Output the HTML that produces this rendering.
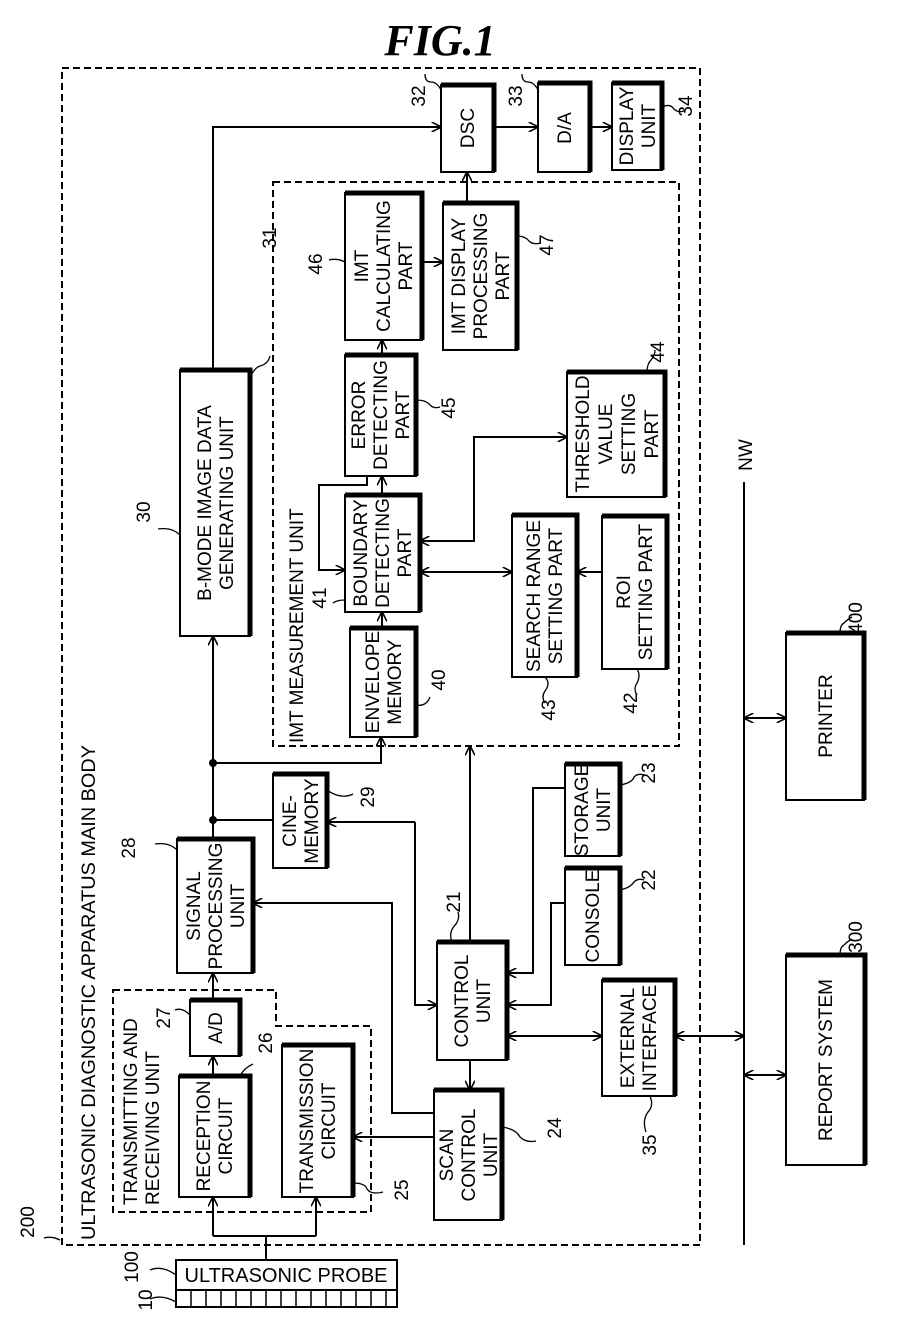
<!DOCTYPE html>
<html><head><meta charset="utf-8"><style>
html,body{margin:0;padding:0;background:#fff}
svg{display:block}
text{font-family:"Liberation Sans",sans-serif;font-size:19px;fill:#000}
.n text{font-size:19px}
</style></head><body>
<svg width="921" height="1335" viewBox="0 0 921 1335" xmlns="http://www.w3.org/2000/svg">
<defs>
<marker id="a" viewBox="0 0 10 10" refX="9.5" refY="5" markerWidth="10" markerHeight="10" markerUnits="userSpaceOnUse" orient="auto-start-reverse">
<path d="M0,0 L10,5 L0,10" fill="none" stroke="#000" stroke-width="1.6"/></marker>
</defs>
<text x="440" y="55" text-anchor="middle" style="font-family:'Liberation Serif',serif;font-weight:bold;font-style:italic;font-size:44px">FIG.1</text>

<g fill="none" stroke="#000" stroke-width="2" stroke-dasharray="7,4">
<rect x="62" y="68" width="638" height="1177"/>
<rect x="273" y="182" width="406" height="564"/>
<path d="M113,990 H276 V1026 H371 V1212 H113 Z"/>
</g>

<g fill="#fff" stroke="#000" stroke-width="2">
<rect x="441" y="85" width="53" height="87"/>
<rect x="538" y="83" width="52" height="89"/>
<rect x="612" y="83" width="50" height="87"/>
<rect x="345" y="193" width="77" height="147"/>
<rect x="443" y="203" width="74" height="147"/>
<rect x="345" y="355" width="71" height="121"/>
<rect x="567" y="372" width="98" height="125"/>
<rect x="345" y="495" width="75" height="117"/>
<rect x="512" y="515" width="65" height="162"/>
<rect x="602" y="516" width="65" height="153"/>
<rect x="350" y="628" width="66" height="109"/>
<rect x="180" y="370" width="70" height="266"/>
<rect x="177" y="839" width="76" height="134"/>
<rect x="273" y="774" width="54" height="94"/>
<rect x="565" y="764" width="55" height="92"/>
<rect x="565" y="868" width="55" height="97"/>
<rect x="437" y="942" width="70" height="118"/>
<rect x="602" y="980" width="73" height="116"/>
<rect x="434" y="1090" width="68" height="130"/>
<rect x="190" y="1000" width="50" height="56"/>
<rect x="179" y="1076" width="71" height="121"/>
<rect x="282" y="1045" width="71" height="152"/>
<rect x="786" y="633" width="78" height="167"/>
<rect x="786" y="955" width="79" height="210"/>
<rect x="176" y="1260" width="221" height="30"/>
<rect x="176" y="1290" width="221" height="17"/>
</g>
<g fill="none" stroke="#000" stroke-width="5">
<polyline points="441,85 494,85 494,172"/>
<polyline points="538,83 590,83 590,172"/>
<polyline points="612,83 662,83 662,170"/>
<polyline points="345,193 422,193 422,340"/>
<polyline points="443,203 517,203 517,350"/>
<polyline points="345,355 416,355 416,476"/>
<polyline points="567,372 665,372 665,497"/>
<polyline points="345,495 420,495 420,612"/>
<polyline points="512,515 577,515 577,677"/>
<polyline points="602,516 667,516 667,669"/>
<polyline points="350,628 416,628 416,737"/>
<polyline points="180,370 250,370 250,636"/>
<polyline points="177,839 253,839 253,973"/>
<polyline points="273,774 327,774 327,868"/>
<polyline points="565,764 620,764 620,856"/>
<polyline points="565,868 620,868 620,965"/>
<polyline points="437,942 507,942 507,1060"/>
<polyline points="602,980 675,980 675,1096"/>
<polyline points="434,1090 502,1090 502,1220"/>
<polyline points="190,1000 240,1000 240,1056"/>
<polyline points="179,1076 250,1076 250,1197"/>
<polyline points="282,1045 353,1045 353,1197"/>
<polyline points="786,633 864,633 864,800"/>
<polyline points="786,955 865,955 865,1165"/>
</g>
<g stroke="#000" stroke-width="1.5">
<line x1="191" y1="1290" x2="191" y2="1307"/><line x1="206" y1="1290" x2="206" y2="1307"/><line x1="221" y1="1290" x2="221" y2="1307"/><line x1="236" y1="1290" x2="236" y2="1307"/><line x1="251" y1="1290" x2="251" y2="1307"/><line x1="266" y1="1290" x2="266" y2="1307"/><line x1="281" y1="1290" x2="281" y2="1307"/><line x1="296" y1="1290" x2="296" y2="1307"/><line x1="311" y1="1290" x2="311" y2="1307"/><line x1="326" y1="1290" x2="326" y2="1307"/><line x1="341" y1="1290" x2="341" y2="1307"/><line x1="356" y1="1290" x2="356" y2="1307"/><line x1="371" y1="1290" x2="371" y2="1307"/><line x1="386" y1="1290" x2="386" y2="1307"/>
</g>

<g fill="none" stroke="#000" stroke-width="2">
<path d="M266,1260 V1236 M213,1236 H316" />
<path d="M213,1236 V1197" marker-end="url(#a)"/>
<path d="M316,1197 V1236" marker-start="url(#a)"/>
<path d="M213,1076 V1056" marker-end="url(#a)"/>
<path d="M213,1000 V973" marker-end="url(#a)"/>
<path d="M213,839 V636" marker-end="url(#a)"/>
<path d="M213,820 H273"/>
<path d="M213,763 H381 V737" marker-end="url(#a)"/>
<path d="M213,370 V127 H441" marker-end="url(#a)"/>
<path d="M494,127 H538" marker-end="url(#a)"/>
<path d="M590,127 H612" marker-end="url(#a)"/>
<path d="M467,203 V172" marker-end="url(#a)"/>
<path d="M422,262 H443" marker-end="url(#a)"/>
<path d="M382,355 V340" marker-end="url(#a)"/>
<path d="M382,495 V476" marker-end="url(#a)"/>
<path d="M367,476 V485 H319 V570 H345" marker-end="url(#a)"/>
<path d="M420,541 H474 V437 H567" marker-start="url(#a)" marker-end="url(#a)"/>
<path d="M420,572 H512" marker-start="url(#a)" marker-end="url(#a)"/>
<path d="M602,572 H577" marker-end="url(#a)"/>
<path d="M382,628 V612" marker-end="url(#a)"/>
<path d="M470,942 V746" marker-end="url(#a)"/>
<path d="M470,1060 V1090" marker-end="url(#a)"/>
<path d="M415,822 H327" marker-end="url(#a)"/>
<path d="M415,822 V1005 H437" marker-end="url(#a)"/>
<path d="M434,1113 H392 V903 H253" marker-end="url(#a)"/>
<path d="M434,1137 H353" marker-end="url(#a)"/>
<path d="M565,788 H533 V973 H507" marker-end="url(#a)"/>
<path d="M565,903 H551 V1005 H507" marker-end="url(#a)"/>
<path d="M507,1036 H602" marker-start="url(#a)" marker-end="url(#a)"/>
<path d="M675,1036 H744" marker-start="url(#a)" marker-end="url(#a)"/>
<path d="M744,718 H786" marker-start="url(#a)" marker-end="url(#a)"/>
<path d="M744,1075 H786" marker-start="url(#a)" marker-end="url(#a)"/>
<path d="M744,482 V1245"/>
<path d="M60,1240 q-8,-4 -16,-2" stroke-width="1.3"/>
<path d="M176,1275 q-14,-10 -26,-5" stroke-width="1.3"/>
<path d="M176,1302 q-14,-8 -26,-3" stroke-width="1.3"/>
<path d="M190,1015 q-8,-8 -15,-5" stroke-width="1.3"/>
<path d="M240,1076 q4,-8 13,-12" stroke-width="1.3"/>
<path d="M353,1183 q12,0 14,6 q4,6 16,3" stroke-width="1.3"/>
<path d="M177,850 q-8,-8 -22,-6" stroke-width="1.3"/>
<path d="M327,790 q14,10 26,4" stroke-width="1.3"/>
<path d="M452,942 q-4,-10 4,-18 q4,-6 2,-12" stroke-width="1.3"/>
<path d="M620,890 q10,-2 14,-8 q4,-4 10,-2" stroke-width="1.3"/>
<path d="M620,785 q12,-2 14,-8 q4,-4 10,-2" stroke-width="1.3"/>
<path d="M502,1127 q14,2 18,10 q6,6 16,4" stroke-width="1.3"/>
<path d="M650,1096 q4,10 -2,16 q-6,8 -2,20" stroke-width="1.3"/>
<path d="M416,705 q10,2 14,-8" stroke-width="1.3"/>
<path d="M545,677 q6,6 0,14 q-4,6 0,12" stroke-width="1.3"/>
<path d="M637,669 q4,6 0,14 q-4,6 0,12" stroke-width="1.3"/>
<path d="M345,600 q-8,0 -12,3" stroke-width="1.3"/>
<path d="M416,400 q10,0 14,5 q4,4 10,2" stroke-width="1.3"/>
<path d="M647,372 q0,-8 4,-12 q4,-4 4,-10" stroke-width="1.3"/>
<path d="M345,262 q-8,-4 -16,-2" stroke-width="1.3"/>
<path d="M517,236 q8,0 12,5 q4,4 12,2" stroke-width="1.3"/>
<path d="M250,378 q4,-10 10,-12 q8,-2 10,-10" stroke-width="1.3"/>
<path d="M180,535 q-8,-8 -22,-6" stroke-width="1.3"/>
<path d="M441,90 q-4,-8 -10,-8 q-6,0 -6,-8" stroke-width="1.3"/>
<path d="M538,90 q-4,-8 -10,-8 q-6,0 -6,-8" stroke-width="1.3"/>
<path d="M662,107 q8,-4 12,2 q4,4 10,2" stroke-width="1.3"/>
<path d="M840,633 q0,-8 4,-10 q4,-4 8,-6" stroke-width="1.3"/>
<path d="M840,955 q0,-8 4,-10 q4,-4 8,-6" stroke-width="1.3"/>
</g>
<g fill="#000"><circle cx="213" cy="820" r="4"/><circle cx="213" cy="763" r="4"/></g>

<g text-anchor="middle">
<text transform="translate(467,128) rotate(-90)"><tspan x="0" y="7">DSC</tspan></text>
<text transform="translate(564,128) rotate(-90)"><tspan x="0" y="7">D/A</tspan></text>
<text transform="translate(637,126) rotate(-90)"><tspan x="0" y="-4">DISPLAY</tspan><tspan x="0" y="18">UNIT</tspan></text>
<text transform="translate(383,266) rotate(-90)"><tspan x="0" y="-15">IMT</tspan><tspan x="0" y="7">CALCULATING</tspan><tspan x="0" y="29">PART</tspan></text>
<text transform="translate(480,276) rotate(-90)"><tspan x="0" y="-15">IMT DISPLAY</tspan><tspan x="0" y="7">PROCESSING</tspan><tspan x="0" y="29">PART</tspan></text>
<text transform="translate(380,415) rotate(-90)"><tspan x="0" y="-15">ERROR</tspan><tspan x="0" y="7">DETECTING</tspan><tspan x="0" y="29">PART</tspan></text>
<text transform="translate(616,434) rotate(-90)"><tspan x="0" y="-27">THRESHOLD</tspan><tspan x="0" y="-4">VALUE</tspan><tspan x="0" y="19">SETTING</tspan><tspan x="0" y="42">PART</tspan></text>
<text transform="translate(382,553) rotate(-90)"><tspan x="0" y="-15">BOUNDARY</tspan><tspan x="0" y="7">DETECTING</tspan><tspan x="0" y="29">PART</tspan></text>
<text transform="translate(544,596) rotate(-90)"><tspan x="0" y="-4">SEARCH RANGE</tspan><tspan x="0" y="18">SETTING PART</tspan></text>
<text transform="translate(634,592) rotate(-90)"><tspan x="0" y="-4">ROI</tspan><tspan x="0" y="18">SETTING PART</tspan></text>
<text transform="translate(383,682) rotate(-90)"><tspan x="0" y="-4">ENVELOPE</tspan><tspan x="0" y="18">MEMORY</tspan></text>
<text transform="translate(215,503) rotate(-90)"><tspan x="0" y="-4">B-MODE IMAGE DATA</tspan><tspan x="0" y="18">GENERATING UNIT</tspan></text>
<text transform="translate(215,906) rotate(-90)"><tspan x="0" y="-15">SIGNAL</tspan><tspan x="0" y="7">PROCESSING</tspan><tspan x="0" y="29">UNIT</tspan></text>
<text transform="translate(300,821) rotate(-90)"><tspan x="0" y="-4">CINE-</tspan><tspan x="0" y="18">MEMORY</tspan></text>
<text transform="translate(592,810) rotate(-90)"><tspan x="0" y="-4">STORAGE</tspan><tspan x="0" y="18">UNIT</tspan></text>
<text transform="translate(592,916) rotate(-90)"><tspan x="0" y="7">CONSOLE</tspan></text>
<text transform="translate(472,1001) rotate(-90)"><tspan x="0" y="-4">CONTROL</tspan><tspan x="0" y="18">UNIT</tspan></text>
<text transform="translate(638,1038) rotate(-90)"><tspan x="0" y="-4">EXTERNAL</tspan><tspan x="0" y="18">INTERFACE</tspan></text>
<text transform="translate(468,1155) rotate(-90)"><tspan x="0" y="-15">SCAN</tspan><tspan x="0" y="7">CONTROL</tspan><tspan x="0" y="29">UNIT</tspan></text>
<text transform="translate(215,1028) rotate(-90)"><tspan x="0" y="7">A/D</tspan></text>
<text transform="translate(214,1136) rotate(-90)"><tspan x="0" y="-4">RECEPTION</tspan><tspan x="0" y="18">CIRCUIT</tspan></text>
<text transform="translate(317,1121) rotate(-90)"><tspan x="0" y="-4">TRANSMISSION</tspan><tspan x="0" y="18">CIRCUIT</tspan></text>
<text transform="translate(825,716) rotate(-90)"><tspan x="0" y="7">PRINTER</tspan></text>
<text transform="translate(825,1060) rotate(-90)"><tspan x="0" y="7">REPORT SYSTEM</tspan></text>
</g>
<text x="286" y="1282" text-anchor="middle" style="font-size:20px">ULTRASONIC PROBE</text>

<text transform="translate(95,1240) rotate(-90)" textLength="495" lengthAdjust="spacingAndGlyphs">ULTRASONIC DIAGNOSTIC APPARATUS MAIN BODY</text>
<text transform="translate(303,743) rotate(-90)">IMT MEASUREMENT UNIT</text>
<text transform="translate(137,1205) rotate(-90)">TRANSMITTING AND</text>
<text transform="translate(159,1205) rotate(-90)">RECEIVING UNIT</text>

<g text-anchor="middle" class="n">
<text transform="translate(34,1222) rotate(-90)">200</text>
<text transform="translate(138,1267) rotate(-90)">100</text>
<text transform="translate(152,1300) rotate(-90)">10</text>
<text transform="translate(170,1018) rotate(-90)">27</text>
<text transform="translate(272,1043) rotate(-90)">26</text>
<text transform="translate(408,1190) rotate(-90)">25</text>
<text transform="translate(135,848) rotate(-90)">28</text>
<text transform="translate(374,797) rotate(-90)">29</text>
<text transform="translate(460,902) rotate(-90)">21</text>
<text transform="translate(655,880) rotate(-90)">22</text>
<text transform="translate(655,773) rotate(-90)">23</text>
<text transform="translate(561,1128) rotate(-90)">24</text>
<text transform="translate(656,1145) rotate(-90)">35</text>
<text transform="translate(445,680) rotate(-90)">40</text>
<text transform="translate(555,710) rotate(-90)">43</text>
<text transform="translate(637,703) rotate(-90)">42</text>
<text transform="translate(326,598) rotate(-90)">41</text>
<text transform="translate(455,408) rotate(-90)">45</text>
<text transform="translate(664,352) rotate(-90)">44</text>
<text transform="translate(322,264) rotate(-90)">46</text>
<text transform="translate(553,245) rotate(-90)">47</text>
<text transform="translate(276,238) rotate(-90)">31</text>
<text transform="translate(150,512) rotate(-90)">30</text>
<text transform="translate(425,96) rotate(-90)">32</text>
<text transform="translate(522,96) rotate(-90)">33</text>
<text transform="translate(692,106) rotate(-90)">34</text>
<text transform="translate(862,618) rotate(-90)">400</text>
<text transform="translate(862,937) rotate(-90)">300</text>
<text transform="translate(752,455) rotate(-90)">NW</text>
</g>
</svg>
</body></html>
